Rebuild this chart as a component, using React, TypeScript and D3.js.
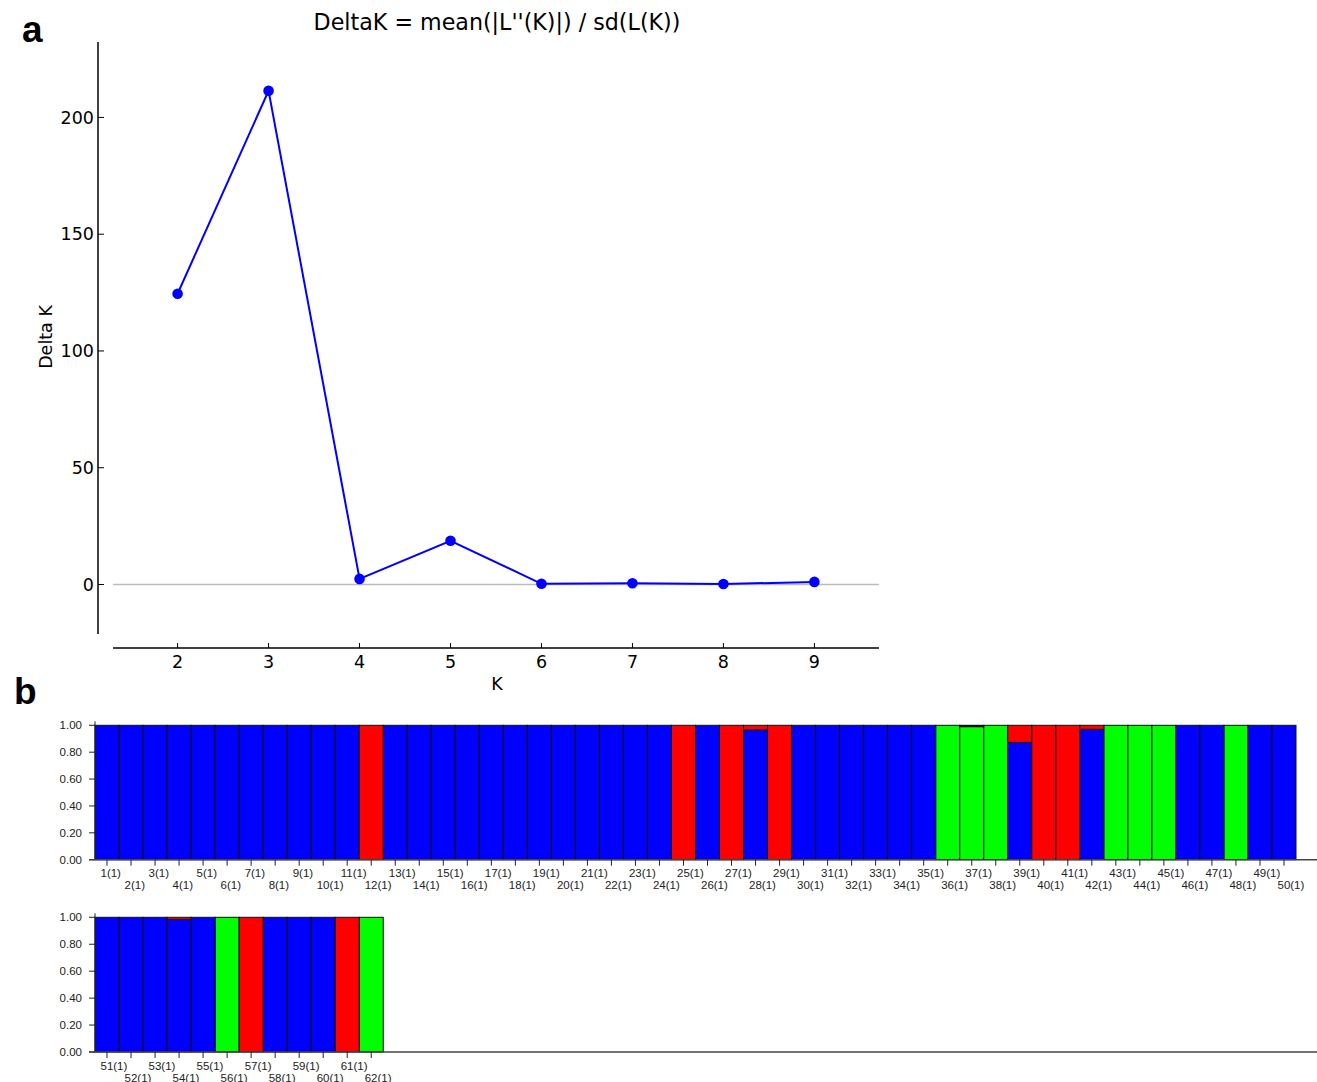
import * as d3 from "d3";

// panel a: Evanno deltaK
const kValues = [2, 3, 4, 5, 6, 7, 8, 9];
const deltaK = [124.5, 211.4, 2.4, 18.7, 0.3, 0.5, 0.2, 1.1];
const deltaTicks = [0, 50, 100, 150, 200];

// panel b: membership coefficients (62 individuals)
const blueQ = [
  1, 1, 1, 1, 1, 1, 1, 1, 1, 1, 1, 0, 1, 1, 1, 1, 1, 1, 1, 1, 1, 1, 1, 1, 0,
  1, 0, 0.966, 0, 1, 1, 1, 1, 1, 1, 0, 0.005, 0, 0.873, 0, 0, 0.97, 0, 0, 0,
  1, 1, 0, 1, 1, 1, 1, 1, 0.985, 1, 0, 0, 1, 1, 1, 0, 0,
];
const redQ = [
  0, 0, 0, 0, 0, 0, 0, 0, 0, 0, 0, 1, 0, 0, 0, 0, 0, 0, 0, 0, 0, 0, 0, 0, 1,
  0, 1, 0.034, 1, 0, 0, 0, 0, 0, 0, 0, 0.005, 0, 0.127, 1, 1, 0.03, 0, 0, 0,
  0, 0, 0, 0, 0, 0, 0, 0, 0.015, 0, 0, 1, 0, 0, 0, 1, 0,
];
const greenQ = [
  0, 0, 0, 0, 0, 0, 0, 0, 0, 0, 0, 0, 0, 0, 0, 0, 0, 0, 0, 0, 0, 0, 0, 0, 0,
  0, 0, 0, 0, 0, 0, 0, 0, 0, 0, 1, 0.99, 1, 0, 0, 0, 0, 1, 1, 1,
  0, 0, 1, 0, 0, 0, 0, 0, 0, 0, 1, 0, 0, 0, 0, 0, 1,
];
const qTicks = [0, 0.2, 0.4, 0.6, 0.8, 1.0];
const clusterKeys = ["green", "blue", "red"];
const clusterColors: Record<string, string> = {
  green: "#00ff00",
  blue: "#0000ff",
  red: "#ff0000",
};

const W = 1317;
const H = 1082;
const perRow = 50;

export default function App() {
  const fontA = "'DejaVu Sans', sans-serif";
  const fontB = "'Liberation Sans', Arial, sans-serif";

  // ---- panel a scales
  const x = d3.scaleLinear().domain([1.29, 9.71]).range([113, 879]);
  const y = d3.scaleLinear().domain([-21.2, 232.3]).range([634, 42]);
  const pts = kValues.map((k, i) => ({ k, v: deltaK[i] }));
  const line = d3
    .line<{ k: number; v: number }>()
    .x((d) => x(d.k))
    .y((d) => y(d.v));

  // ---- panel b
  const rows = blueQ.map((b, i) => ({
    id: i + 1,
    blue: b,
    red: redQ[i],
    green: greenQ[i],
  }));
  const stacked = d3.stack<any>().keys(clusterKeys)(rows);
  const slot = d3
    .scaleBand<number>()
    .domain(d3.range(perRow))
    .range([95, 1296])
    .padding(0);
  const rowY = [
    d3.scaleLinear().domain([0, 1]).range([859.7, 725.3]),
    d3.scaleLinear().domain([0, 1]).range([1052, 917.3]),
  ];
  const nRows = Math.ceil(rows.length / perRow);

  return (
    <svg
      width={W}
      height={H}
      style={{ position: "absolute", left: 0, top: 0, background: "#fff" }}
    >
      {/* panel labels */}
      <text x={22} y={42} fontFamily="'Liberation Sans', Arial" fontWeight="bold" fontSize={37}>
        a
      </text>
      <text x={14} y={704} fontFamily="'Liberation Sans', Arial" fontWeight="bold" fontSize={37}>
        b
      </text>

      {/* ---------- panel a ---------- */}
      <text x={497} y={29.5} textAnchor="middle" fontFamily={fontA} fontSize={22.2}>
        {"DeltaK = mean(|L''(K)|) / sd(L(K))"}
      </text>
      <line x1={x.range()[0]} x2={x.range()[1]} y1={y(0)} y2={y(0)} stroke="#bbbbbb" strokeWidth={1.5} />
      <line x1={98} x2={98} y1={y.range()[1]} y2={y.range()[0]} stroke="#000" strokeWidth={1.5} />
      <line x1={x.range()[0]} x2={x.range()[1]} y1={648} y2={648} stroke="#000" strokeWidth={1.5} />
      {deltaTicks.map((t) => (
        <g key={t}>
          <line x1={98} x2={104} y1={y(t)} y2={y(t)} stroke="#000" strokeWidth={1} />
          <text x={94} y={y(t) + 6.3} textAnchor="end" fontFamily={fontA} fontSize={17.5}>
            {t}
          </text>
        </g>
      ))}
      {kValues.map((k) => (
        <g key={k}>
          <line x1={x(k)} x2={x(k)} y1={648} y2={643} stroke="#000" strokeWidth={1} />
          <text x={x(k)} y={668} textAnchor="middle" fontFamily={fontA} fontSize={17.5}>
            {k}
          </text>
        </g>
      ))}
      <text x={497} y={690} textAnchor="middle" fontFamily={fontA} fontSize={17.5}>
        K
      </text>
      <text
        transform="translate(52,337) rotate(-90)"
        textAnchor="middle"
        fontFamily={fontA}
        fontSize={17.5}
      >
        Delta K
      </text>
      <path d={line(pts) || ""} fill="none" stroke="#0000ff" strokeWidth={2} />
      {pts.map((d) => (
        <circle key={d.k} cx={x(d.k)} cy={y(d.v)} r={5.3} fill="#0000ff" />
      ))}

      {/* ---------- panel b ---------- */}
      {d3.range(nRows).map((r) => {
        const ys = rowY[r];
        return (
          <g key={"row" + r}>
            {qTicks.map((t) => (
              <g key={t}>
                <line x1={89} x2={95} y1={ys(t)} y2={ys(t)} stroke="#222" strokeWidth={1} />
                <text x={82} y={ys(t) + 4} textAnchor="end" fontFamily={fontB} fontSize={11.5} fill="#222">
                  {t.toFixed(2)}
                </text>
              </g>
            ))}
          </g>
        );
      })}
      {stacked.map((layer) =>
        layer.map((seg, i) => {
          const h = seg[1] - seg[0];
          if (h <= 0) return null;
          const r = Math.floor(i / perRow);
          const ys = rowY[r];
          const x0 = slot(i % perRow) as number;
          return (
            <rect
              key={layer.key + i}
              x={x0}
              width={slot.bandwidth()}
              y={ys(seg[1])}
              height={ys(seg[0]) - ys(seg[1])}
              fill={clusterColors[layer.key]}
              stroke="#111"
              strokeWidth={1}
            />
          );
        })
      )}
      {d3.range(nRows).map((r) => {
        const ys = rowY[r];
        return (
          <g key={"ax" + r}>
            <line x1={95} x2={95} y1={ys(1) - 4} y2={ys(0)} stroke="#222" strokeWidth={1} />
            <line x1={89} x2={1317} y1={ys(0)} y2={ys(0)} stroke="#444" strokeWidth={1.5} />
          </g>
        );
      })}
      {rows.map((d, i) => {
        const r = Math.floor(i / perRow);
        const ys = rowY[r];
        const cx = (slot(i % perRow) as number) + slot.bandwidth() / 2;
        const odd = d.id % 2 === 1;
        return (
          <g key={"lab" + d.id}>
            <line x1={cx} x2={cx} y1={ys(0)} y2={ys(0) + 6} stroke="#222" strokeWidth={1} />
            <text
              x={cx - 6.5}
              y={ys(0) + (odd ? 17.5 : 29.5)}
              fontFamily={fontB}
              fontSize={11.5}
              fill="#222"
            >
              {`${d.id}(1)`}
            </text>
          </g>
        );
      })}
    </svg>
  );
}
